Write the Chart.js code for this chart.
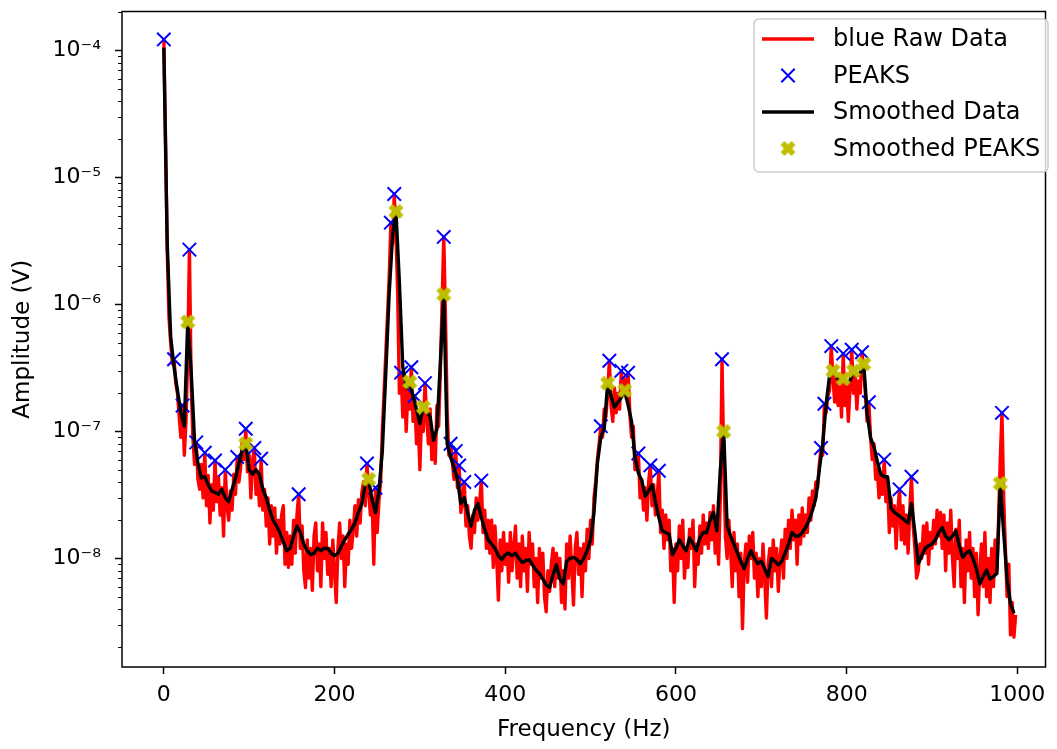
<!DOCTYPE html>
<html>
<head>
<meta charset="utf-8">
<script src="https://cdn.jsdelivr.net/npm/chart.js@4/dist/chart.umd.min.js"></script>
<style>
  html, body { margin: 0; padding: 0; background: #fff; }
</style>
</head>
<body>
<canvas id="myChart" width="1057" height="749"></canvas>
<script>
// raw spectrum, one value every 2 Hz starting at 0 Hz (each row = 20 Hz)
var rawStep = 2;
var rawAmp = [
  1.22e-4, 2.0e-5, 2.6e-6, 8.0e-7, 5.0e-7, 3.4e-7, 3.7e-7, 2.4e-7, 2.0e-7, 1.3e-7,
  9.0e-8, 1.6e-7, 6.5e-8, 1.2e-7, 4.0e-7, 2.7e-6, 2.5e-7, 9.0e-8, 5.5e-8, 8.2e-8,
  4.2e-8, 3.5e-8, 5.5e-8, 3.0e-8, 6.8e-8, 2.6e-8, 4.5e-8, 1.9e-8, 3.8e-8, 2.4e-8,
  5.9e-8, 2.8e-8, 4.4e-8, 2.2e-8, 3.6e-8, 1.5e-8, 5.0e-8, 2.6e-8, 2.0e-8, 3.4e-8,
  2.4e-8, 4.6e-8, 3.2e-8, 6.3e-8, 4.0e-8, 5.2e-8, 8.6e-8, 6.0e-8, 1.05e-7, 4.8e-8,
  6.5e-8, 3.0e-8, 5.8e-8, 7.4e-8, 3.2e-8, 4.8e-8, 2.6e-8, 6.1e-8, 2.4e-8, 3.5e-8,
  1.8e-8, 3.0e-8, 1.3e-8, 2.6e-8, 1.5e-8, 2.5e-8, 1.1e-8, 2.0e-8, 1.3e-8, 2.2e-8,
  2.6e-8, 9.0e-9, 1.6e-8, 8.5e-9, 1.5e-8, 9.0e-9, 2.0e-8, 1.1e-8, 2.2e-8, 3.2e-8,
  1.2e-8, 1.8e-8, 8.0e-9, 5.9e-9, 1.4e-8, 7.0e-9, 1.2e-8, 5.6e-9, 1.5e-8, 1.9e-8,
  8.0e-9, 1.3e-8, 6.0e-9, 1.9e-8, 1.0e-8, 1.6e-8, 7.5e-9, 1.2e-8, 6.0e-9, 1.4e-8,
  8.0e-9, 4.5e-9, 1.2e-8, 1.9e-8, 1.0e-8, 1.5e-8, 6.0e-9, 1.3e-8, 9.0e-9, 2.0e-8,
  1.2e-8, 1.7e-8, 2.6e-8, 1.5e-8, 2.9e-8, 1.9e-8, 3.3e-8, 4.0e-8, 2.6e-8, 5.6e-8,
  3.4e-8, 2.2e-8, 3.0e-8, 9.0e-9, 3.6e-8, 1.6e-8, 2.8e-8, 4.0e-8, 1.0e-7, 2.0e-7,
  4.0e-7, 8.0e-7, 1.6e-6, 4.4e-6, 3.0e-6, 7.4e-6, 3.6e-6, 1.2e-6, 2.0e-7, 2.9e-7,
  1.3e-7, 2.4e-7, 1.0e-7, 2.2e-7, 1.5e-7, 3.2e-7, 1.2e-7, 1.9e-7, 8.0e-8, 1.2e-7,
  5.0e-8, 1.4e-7, 1.0e-7, 2.4e-7, 1.3e-7, 8.0e-8, 1.5e-7, 6.0e-8, 9.0e-8, 5.6e-8,
  1.6e-7, 1.1e-7, 3.0e-7, 1.0e-6, 3.4e-6, 8.0e-7, 1.4e-7, 6.5e-8, 8.0e-8, 5.8e-8,
  4.2e-8, 7.0e-8, 3.6e-8, 5.4e-8, 2.3e-8, 2.8e-8, 4.0e-8, 1.8e-8, 2.6e-8, 1.5e-8,
  1.2e-8, 2.2e-8, 1.6e-8, 3.0e-8, 2.0e-8, 2.8e-8, 4.1e-8, 1.6e-8, 2.4e-8, 1.2e-8,
  2.0e-8, 1.1e-8, 2.0e-8, 8.5e-9, 1.8e-8, 1.0e-8, 4.7e-9, 1.4e-8, 8.0e-9, 1.6e-8,
  9.0e-9, 1.3e-8, 6.5e-9, 1.6e-8, 8.0e-9, 1.2e-8, 1.8e-8, 7.0e-9, 1.3e-8, 6.0e-9,
  1.5e-8, 8.0e-9, 1.2e-8, 5.5e-9, 1.6e-8, 9.0e-9, 1.3e-8, 6.0e-9, 1.0e-8, 4.5e-9,
  1.2e-8, 7.0e-9, 1.1e-8, 5.0e-9, 3.8e-9, 8.0e-9, 5.5e-9, 9.0e-9, 1.2e-8, 6.0e-9,
  1.1e-8, 7.0e-9, 1.0e-8, 4.5e-9, 8.0e-9, 4.0e-9, 1.3e-8, 7.0e-9, 1.5e-8, 8.0e-9,
  4.3e-9, 1.2e-8, 1.6e-8, 7.5e-9, 1.2e-8, 5.0e-9, 1.3e-8, 8.0e-9, 1.7e-8, 1.0e-8,
  2.0e-8, 1.3e-8, 3.0e-8, 4.0e-8, 6.0e-8, 8.0e-8, 1.1e-7, 9.0e-8, 1.5e-7, 1.3e-7,
  2.0e-7, 3.6e-7, 1.6e-7, 1.2e-7, 2.2e-7, 1.4e-7, 2.0e-7, 1.5e-7, 3.0e-7, 2.0e-7,
  2.6e-7, 1.8e-7, 2.9e-7, 1.4e-7, 9.0e-8, 1.1e-7, 5.0e-8, 6.0e-8, 6.7e-8, 3.0e-8,
  4.2e-8, 2.4e-8, 3.6e-8, 2.0e-8, 4.0e-8, 5.4e-8, 2.6e-8, 3.8e-8, 2.2e-8, 3.0e-8,
  4.9e-8, 1.6e-8, 2.4e-8, 1.2e-8, 2.2e-8, 1.4e-8, 2.0e-8, 8.0e-9, 1.2e-8, 4.5e-9,
  1.3e-8, 8.0e-9, 1.8e-8, 1.0e-8, 2.0e-8, 7.0e-9, 1.2e-8, 8.5e-9, 1.7e-8, 1.2e-8,
  2.0e-8, 6.0e-9, 1.3e-8, 9.0e-9, 1.8e-8, 1.1e-8, 2.2e-8, 1.3e-8, 1.9e-8, 1.2e-8,
  2.3e-8, 1.4e-8, 2.6e-8, 1.1e-8, 1.8e-8, 9.0e-9, 3.0e-8, 3.7e-7, 6.0e-8, 1.5e-8,
  1.0e-8, 2.0e-8, 1.2e-8, 6.0e-9, 1.6e-8, 8.0e-9, 1.3e-8, 5.0e-9, 1.1e-8, 2.8e-9,
  9.0e-9, 1.3e-8, 6.5e-9, 1.5e-8, 1.0e-8, 1.6e-8, 7.0e-9, 1.1e-8, 5.0e-9, 1.0e-8,
  6.0e-9, 1.3e-8, 7.0e-9, 3.4e-9, 9.0e-9, 1.2e-8, 6.0e-9, 1.4e-8, 8.0e-9, 1.2e-8,
  5.5e-9, 1.0e-8, 1.4e-8, 7.0e-9, 1.7e-8, 1.0e-8, 2.0e-8, 1.2e-8, 2.4e-8, 1.4e-8,
  2.0e-8, 9.0e-9, 2.2e-8, 1.3e-8, 2.5e-8, 1.5e-8, 2.2e-8, 1.6e-8, 3.0e-8, 2.0e-8,
  3.4e-8, 2.6e-8, 4.0e-8, 3.6e-8, 5.5e-8, 7.4e-8, 6.5e-8, 1.65e-7, 1.4e-7, 1.9e-7,
  2.1e-7, 4.7e-7, 2.6e-7, 1.7e-7, 2.6e-7, 1.6e-7, 2.8e-7, 1.3e-7, 4.1e-7, 1.6e-7,
  2.4e-7, 1.2e-7, 2.2e-7, 4.4e-7, 2.0e-7, 2.8e-7, 1.5e-7, 2.5e-7, 2.0e-7, 4.2e-7,
  3.0e-7, 2.0e-7, 1.2e-7, 1.7e-7, 9.0e-8, 6.0e-8, 8.0e-8, 4.2e-8, 5.0e-8, 3.0e-8,
  4.4e-8, 3.2e-8, 6.0e-8, 2.8e-8, 4.0e-8, 1.6e-8, 3.0e-8, 1.8e-8, 2.6e-8, 1.2e-8,
  2.4e-8, 3.5e-8, 1.4e-8, 2.6e-8, 1.3e-8, 2.2e-8, 1.1e-8, 2.4e-8, 4.4e-8, 1.8e-8,
  1.2e-8, 7.0e-9, 8.0e-9, 1.3e-8, 1.0e-8, 1.8e-8, 1.1e-8, 1.9e-8, 9.0e-9, 1.6e-8,
  1.2e-8, 2.0e-8, 1.3e-8, 2.4e-8, 1.5e-8, 2.3e-8, 1.2e-8, 2.2e-8, 8.0e-9, 1.9e-8,
  1.1e-8, 2.4e-8, 1.0e-8, 6.0e-9, 1.7e-8, 1.0e-8, 2.0e-8, 6.0e-9, 1.2e-8, 4.5e-9,
  1.4e-8, 8.0e-9, 1.6e-8, 7.0e-9, 1.2e-8, 5.0e-9, 1.1e-8, 3.6e-9, 8.0e-9, 1.3e-8,
  6.0e-9, 1.6e-8, 5.0e-9, 1.0e-8, 4.5e-9, 1.2e-8, 6.0e-9, 1.4e-8, 8.0e-9, 2.0e-8,
  6.0e-8, 1.4e-7, 3.0e-8, 1.2e-8, 5.0e-9, 9.0e-9, 2.5e-9, 4.5e-9, 2.4e-9, 3.6e-9
];

// smoothed spectrum, one value every 4 Hz (each row = 40 Hz)
var smoothStep = 4;
var smoothAmp = [
  1.05e-4, 3.0e-6, 5.6e-7, 3.2e-7, 2.1e-7, 1.4e-7, 1.1e-7, 7.3e-7, 3.0e-7, 8.5e-8,
  5.6e-8, 4.3e-8, 4.4e-8, 3.8e-8, 3.4e-8, 3.3e-8, 3.2e-8, 3.5e-8, 3.0e-8, 2.8e-8,
  3.5e-8, 4.3e-8, 5.6e-8, 7.2e-8, 8.0e-8, 5.0e-8, 4.6e-8, 5.0e-8, 4.6e-8, 3.5e-8,
  3.0e-8, 2.4e-8, 2.0e-8, 1.8e-8, 1.6e-8, 1.35e-8, 1.15e-8, 1.2e-8, 1.5e-8, 1.8e-8,
  1.6e-8, 1.3e-8, 1.15e-8, 1.07e-8, 1.1e-8, 1.2e-8, 1.15e-8, 1.2e-8, 1.2e-8, 1.1e-8,
  1.05e-8, 1.1e-8, 1.25e-8, 1.4e-8, 1.55e-8, 1.7e-8, 1.9e-8, 2.3e-8, 2.7e-8, 3.8e-8,
  4.2e-8, 2.9e-8, 2.3e-8, 3.4e-8, 7.0e-8, 2.8e-7, 1.2e-6, 3.5e-6, 5.4e-6, 1.5e-6,
  3.2e-7, 2.2e-7, 2.45e-7, 1.9e-7, 1.5e-7, 1.15e-7, 1.55e-7, 1.45e-7, 1.3e-7, 8.5e-8,
  1.05e-7, 3.5e-7, 1.2e-6, 8.0e-8, 6.3e-8, 5.2e-8, 4.2e-8, 2.7e-8, 3.0e-8, 2.3e-8,
  1.8e-8, 2.4e-8, 2.7e-8, 2.1e-8, 1.7e-8, 1.4e-8, 1.3e-8, 1.2e-8, 1.05e-8, 9.8e-9,
  1.07e-8, 1.1e-8, 1.05e-8, 1.1e-8, 1.0e-8, 9.3e-9, 9.6e-9, 9.8e-9, 8.9e-9, 8.1e-9,
  7.6e-9, 6.9e-9, 6.2e-9, 5.9e-9, 7.4e-9, 8.9e-9, 6.9e-9, 6.3e-9, 9.5e-9, 1.0e-8,
  1.02e-8, 9.8e-9, 9.1e-9, 1.0e-8, 1.15e-8, 1.4e-8, 2.3e-8, 5.6e-8, 9.0e-8, 1.05e-7,
  2.4e-7, 1.9e-7, 1.55e-7, 1.7e-7, 1.85e-7, 2.1e-7, 1.6e-7, 1.2e-7, 6.3e-8, 4.7e-8,
  4.1e-8, 3.1e-8, 3.4e-8, 3.8e-8, 2.8e-8, 2.1e-8, 1.65e-8, 1.6e-8, 1.55e-8, 1.07e-8,
  1.2e-8, 1.4e-8, 1.26e-8, 1.15e-8, 1.45e-8, 1.3e-8, 1.15e-8, 1.45e-8, 1.6e-8, 1.6e-8,
  2.0e-8, 2.3e-8, 1.65e-8, 5.0e-8, 1.0e-7, 1.8e-8, 1.5e-8, 1.3e-8, 1.1e-8, 9.5e-9,
  8.3e-9, 1.0e-8, 1.15e-8, 1.0e-8, 9.1e-9, 9.5e-9, 8.3e-9, 7.2e-9, 1.0e-8, 9.5e-9,
  8.9e-9, 9.5e-9, 1.1e-8, 1.3e-8, 1.6e-8, 1.5e-8, 1.5e-8, 1.6e-8, 1.75e-8, 2.0e-8,
  2.4e-8, 3.0e-8, 5.0e-8, 8.0e-8, 1.65e-7, 2.75e-7, 3.0e-7, 2.7e-7, 2.5e-7, 2.6e-7,
  2.45e-7, 2.5e-7, 3.0e-7, 2.75e-7, 2.9e-7, 3.4e-7, 1.4e-7, 8.9e-8, 7.6e-8, 5.8e-8,
  4.6e-8, 4.4e-8, 4.4e-8, 2.5e-8, 2.3e-8, 2.2e-8, 2.1e-8, 2.0e-8, 1.9e-8, 2.7e-8,
  1.6e-8, 9.1e-9, 1.05e-8, 1.2e-8, 1.26e-8, 1.3e-8, 1.4e-8, 1.6e-8, 1.75e-8, 1.5e-8,
  1.4e-8, 1.5e-8, 1.65e-8, 1.26e-8, 1.02e-8, 1.1e-8, 1.15e-8, 1.0e-8, 8.3e-9, 6.3e-9,
  7.2e-9, 8.1e-9, 6.9e-9, 7.2e-9, 7.6e-9, 3.9e-8, 1.6e-8, 6.8e-9, 4.4e-9, 3.7e-9
];

// frequencies (Hz) where peaks were marked
var rawPeakFreq = [0, 12, 22, 30, 38, 48, 60, 72, 86, 96, 106, 114, 158, 238, 248,
  266, 270, 278, 290, 294, 306, 328, 336, 342, 346, 352, 372, 512, 522, 536, 544,
  556, 570, 580, 654, 770, 774, 782, 796, 806, 818, 826, 844, 862, 876, 982];
var smoothPeakFreq = [28, 96, 240, 272, 288, 304, 328, 520, 540, 656, 784, 796, 808, 820, 980];

var seriesNames = ['blue Raw Data', 'PEAKS', 'Smoothed Data', 'Smoothed PEAKS'];
var xTicks = [0, 200, 400, 600, 800, 1000];
var yTicks = [1e-8, 1e-7, 1e-6, 1e-5, 1e-4];
var yTickLabels = ['10\u207B\u2078', '10\u207B\u2077', '10\u207B\u2076', '10\u207B\u2075', '10\u207B\u2074'];

var rawPoints = rawAmp.map(function (v, i) { return { x: i * rawStep, y: v }; });
var smoothPoints = smoothAmp.map(function (v, i) { return { x: i * smoothStep, y: v }; });
var rawPeaks = rawPeakFreq.map(function (f) { return { x: f, y: rawAmp[f / rawStep] }; });
var smoothPeaks = smoothPeakFreq.map(function (f) { return { x: f, y: smoothAmp[f / smoothStep] }; });

// filled "X" marker like matplotlib's 'X'
function filledX(size, color) {
  var s = size + 4;
  var c = document.createElement('canvas');
  c.width = s; c.height = s;
  var g = c.getContext('2d');
  var pts = [[-1,-2],[0,-1],[1,-2],[2,-1],[1,0],[2,1],[1,2],[0,1],[-1,2],[-2,1],[-1,0],[-2,-1]];
  g.translate(s / 2, s / 2);
  g.beginPath();
  pts.forEach(function (p, i) {
    var x = p[0] * size / 4, y = p[1] * size / 4;
    if (i) g.lineTo(x, y); else g.moveTo(x, y);
  });
  g.closePath();
  g.fillStyle = color; g.fill();
  g.strokeStyle = color; g.lineWidth = 1; g.stroke();
  return c;
}
var yellowX = filledX(14, '#bfbf00');

function drawCross(ctx, x, y, h, color, w) {
  ctx.strokeStyle = color; ctx.lineWidth = w;
  ctx.beginPath();
  ctx.moveTo(x - h, y - h); ctx.lineTo(x + h, y + h);
  ctx.moveTo(x - h, y + h); ctx.lineTo(x + h, y - h);
  ctx.stroke();
}

var framePlugin = {
  id: 'frame',
  afterDraw: function (chart) {
    var ctx = chart.ctx, a = chart.chartArea, ys = chart.scales.y;
    ctx.save();
    ctx.strokeStyle = '#000';
    ctx.lineWidth = 1.5;
    ctx.strokeRect(a.left, a.top, a.right - a.left, a.bottom - a.top);
    // minor ticks on the log axis
    ctx.lineWidth = 1.2;
    ctx.beginPath();
    for (var e = -10; e <= -3; e++) {
      for (var m = 2; m <= 9; m++) {
        var v = m * Math.pow(10, e);
        if (v < ys.min || v > ys.max) continue;
        var py = Math.round(ys.getPixelForValue(v)) + 0.5;
        ctx.moveTo(a.left - 4, py); ctx.lineTo(a.left, py);
      }
    }
    ctx.stroke();

    // legend box
    var lx = 754, ly = 19, lw = 294, lh = 153, r = 5;
    ctx.beginPath();
    ctx.moveTo(lx + r, ly);
    ctx.arcTo(lx + lw, ly, lx + lw, ly + lh, r);
    ctx.arcTo(lx + lw, ly + lh, lx, ly + lh, r);
    ctx.arcTo(lx, ly + lh, lx, ly, r);
    ctx.arcTo(lx, ly, lx + lw, ly, r);
    ctx.closePath();
    ctx.fillStyle = 'rgba(255,255,255,0.8)';
    ctx.fill();
    ctx.strokeStyle = '#cccccc';
    ctx.lineWidth = 1.5;
    ctx.stroke();

    chart.data.datasets.forEach(function (ds, i) {
      var cy = 39 + i * 36.5;
      if (ds.showLine === false) {
        if (ds.pointStyle === 'crossRot') drawCross(ctx, 788, cy, 6.7, ds.borderColor, 2);
        else ctx.drawImage(yellowX, 788 - yellowX.width / 2, cy - yellowX.height / 2);
      } else {
        ctx.strokeStyle = ds.borderColor;
        ctx.lineWidth = ds.borderWidth;
        ctx.beginPath();
        ctx.moveTo(762, cy); ctx.lineTo(814, cy);
        ctx.stroke();
      }
      ctx.fillStyle = '#000';
      ctx.font = '24px "DejaVu Sans"';
      ctx.textBaseline = 'middle';
      ctx.textAlign = 'left';
      ctx.fillText(ds.label, 833, cy + 1);
    });
    ctx.restore();
  }
};

Chart.defaults.font.family = '"DejaVu Sans", sans-serif';
Chart.defaults.color = '#000';

var ctx = document.getElementById('myChart');
var myChart = new Chart(ctx, {
  type: 'line',
  data: {
    datasets: [{
      label: seriesNames[0],
      data: rawPoints,
      borderColor: '#ff0000',
      borderWidth: 3.4,
      borderJoinStyle: 'round',
      pointRadius: 0,
      order: 4
    }, {
      label: seriesNames[1],
      data: rawPeaks,
      showLine: false,
      pointStyle: 'crossRot',
      pointRadius: 9.5,
      pointBorderWidth: 2,
      borderColor: '#0000ff',
      backgroundColor: '#0000ff',
      order: 3
    }, {
      label: seriesNames[2],
      data: smoothPoints,
      borderColor: '#000000',
      borderWidth: 3.4,
      borderJoinStyle: 'round',
      pointRadius: 0,
      order: 2
    }, {
      label: seriesNames[3],
      data: smoothPeaks,
      showLine: false,
      pointStyle: yellowX,
      pointRadius: 8,
      borderColor: '#bfbf00',
      backgroundColor: '#bfbf00',
      order: 1
    }]
  },
  options: {
    responsive: false,
    animation: false,
    devicePixelRatio: 1,
    events: [],
    layout: { padding: { top: 10, right: 10, left: 0, bottom: 0 } },
    plugins: {
      legend: { display: false },
      tooltip: { enabled: false }
    },
    scales: {
      x: {
        type: 'linear',
        min: -49,
        max: 1033,
        bounds: 'data',
        afterBuildTicks: function (s) { s.ticks = xTicks.map(function (v) { return { value: v }; }); },
        afterFit: function (s) { s.height = 82; s.paddingLeft = 0; s.paddingRight = 0; },
        grid: { drawOnChartArea: false, drawTicks: true, tickLength: 7, tickWidth: 1.5, tickColor: '#000' },
        border: { display: false },
        ticks: {
          autoSkip: false, maxRotation: 0, padding: 8,
          font: { size: 22 },
          callback: function (v, i) { return String(xTicks[i]); }
        },
        title: { display: true, text: 'Frequency (Hz)', font: { size: 23 }, padding: { top: 0, bottom: 5 } }
      },
      y: {
        type: 'logarithmic',
        min: 1.397e-9,
        max: 2.024e-4,
        bounds: 'data',
        afterBuildTicks: function (s) { s.ticks = yTicks.map(function (v) { return { value: v, major: true }; }); },
        afterFit: function (s) { s.width = 122; s.paddingTop = 0; s.paddingBottom = 0; },
        grid: { drawOnChartArea: false, drawTicks: true, tickLength: 7, tickWidth: 1.5, tickColor: '#000' },
        border: { display: false },
        ticks: {
          autoSkip: false, padding: 14,
          font: { size: 22 },
          callback: function (v, i) { return yTickLabels[i]; }
        },
        title: { display: true, text: 'Amplitude (V)', font: { size: 23 }, padding: { top: 9, bottom: 0 } }
      }
    }
  },
  plugins: [framePlugin]
});
</script>
</body>
</html>
